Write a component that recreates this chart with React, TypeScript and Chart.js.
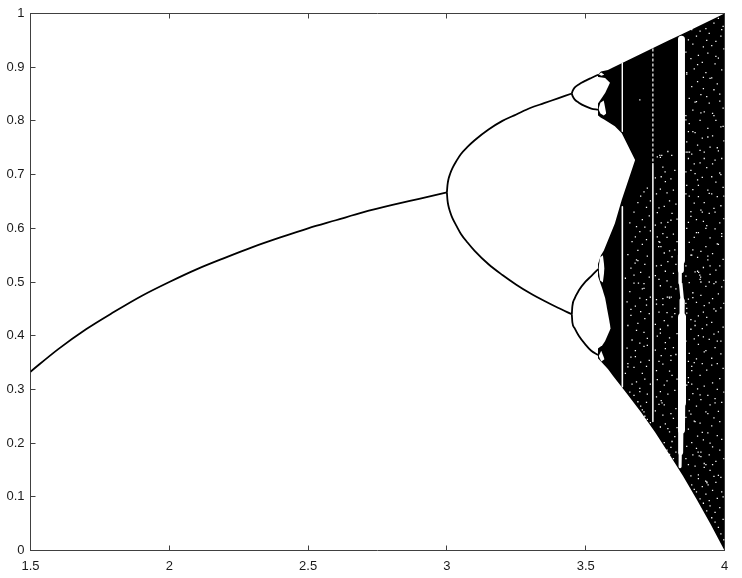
import React, { useEffect, useRef } from "react";
import { Chart, registerables } from "chart.js";

Chart.register(...registerables);

// Speckle lists other than visibleClumps are hand-typed estimates that follow the visible
// density; they are not exact per-pixel readings, and are sparser than the reference.

const xTicks = [1.5, 2, 2.5, 3, 3.5, 4];
const yTicks = [0, 0.1, 0.2, 0.3, 0.4, 0.5, 0.6, 0.7, 0.8, 0.9, 1];

type P = [number, number];

const mainBranch: P[] = [[1.5,.333],[1.6,.375],[1.7,.412],[1.8,.444],[1.9,.474],[2,.5],[2.1,.524],[2.2,.545],[2.3,.565],[2.4,.583],[2.5,.6],[2.6,.615],[2.7,.63],[2.8,.643],[2.9,.655],[3,.667]];
const upperArc: P[] = [[3,.667],[3.002,.68],[3.005,.69],[3.012,.702],[3.02,.712],[3.035,.726],[3.05,.738],[3.075,.752],[3.1,.764],[3.15,.784],[3.2,.8],[3.25,.812],[3.3,.824],[3.35,.833],[3.4,.842],[3.45,.851]];
const lowerArc: P[] = [[3,.667],[3.002,.653],[3.005,.643],[3.012,.63],[3.02,.619],[3.035,.604],[3.05,.59],[3.075,.573],[3.1,.558],[3.15,.533],[3.2,.513],[3.25,.495],[3.3,.479],[3.35,.465],[3.4,.452],[3.45,.44]];
const lobeA: P[] = [[3.45,.851],[3.453,.856],[3.46,.862],[3.475,.868],[3.5,.875],[3.52,.88],[3.545,.886]];
const lobeB: P[] = [[3.45,.851],[3.453,.846],[3.46,.84],[3.475,.834],[3.5,.827],[3.52,.823],[3.545,.821]];
const lobeC: P[] = [[3.45,.44],[3.452,.455],[3.46,.469],[3.475,.484],[3.5,.501],[3.52,.511],[3.545,.524]];
const lobeD: P[] = [[3.45,.44],[3.452,.425],[3.46,.414],[3.475,.4],[3.5,.383],[3.52,.372],[3.545,.364]];

const bandR = [3.544,3.555,3.58,3.6,3.65,3.7,3.75,3.8,3.85,3.9,3.95,4];
const bandTop = [.886,.892,.895,.9,.9125,.925,.9375,.95,.9625,.975,.9875,1];
const bandBottom = [.358,.352,.338,.324,.291,.257,.22,.18,.139,.095,.049,0];

const hollowUpR = [3.54,3.57,3.5875];
const hollowUpTop = [.882,.88,.871];
const hollowUpBottom = [.829,.852,.871];
const eyeAR = [3.547,3.556,3.567];
const eyeATop = [.887,.89,.886];
const eyeABottom = [.887,.884,.886];
const eyeBR = [3.546,3.553,3.565,3.574];
const eyeBTop = [.822,.834,.838,.814];
const eyeBBottom = [.822,.814,.81,.814];
const wedgeR = [3.54,3.555,3.565,3.605,3.63,3.678];
const wedgeTop = [.812,.806,.803,.79,.777,.727];
const wedgeBottom = [.527,.55,.558,.609,.653,.727];
const eyeCR = [3.546,3.552,3.562,3.568];
const eyeCTop = [.525,.546,.55,.525];
const eyeCBottom = [.525,.503,.499,.525];
const hollowLowR = [3.54,3.56,3.57,3.59];
const hollowLowTop = [.517,.487,.47,.414];
const hollowLowBottom = [.375,.382,.39,.414];
const eyeDR = [3.547,3.556,3.568];
const eyeDTop = [.362,.372,.356];
const eyeDBottom = [.362,.352,.356];

const thinWindowA: P[] = [[3.632,.908],[3.632,.78]];
const thinWindowB: P[] = [[3.632,.64],[3.632,.305]];
const dottedWindow: P[] = [[3.742,.935],[3.742,.72]];
const thinWindowC: P[] = [[3.742,.72],[3.742,.24]];
const bigWindowTop: P[] = [[3.845,.952],[3.845,.54]];
const bigWindowShoulder: P[] = [[3.843,.55],[3.843,.522]];
const bigWindowNeckA: P[] = [[3.84,.522],[3.84,.498]];
const bigWindowNeckB: P[] = [[3.842,.498],[3.848,.466]];
const bigWindowWiden: P[] = [[3.848,.466],[3.847,.435]];
const bigWindowMid: P[] = [[3.847,.435],[3.847,.275]];
const bigWindowLow: P[] = [[3.846,.275],[3.845,.224]];
const bigWindowTaper: P[] = [[3.843,.224],[3.842,.182]];
const bigWindowTip: P[] = [[3.841,.182],[3.84,.156]];

const visibleClumps: P[] = [[3.911,.513],[3.914,.509],[3.907,.518],[3.678,.535],[3.69,.498],[3.794,.472],[3.801,.472],[3.808,.472],[3.937,.126],[3.941,.122],[3.932,.129],[3.905,.183],[3.909,.176],[3.775,.275],[3.767,.574],[3.771,.566],[3.763,.566],[3.767,.736],[3.774,.736],[3.81,.736],[3.862,.742],[3.868,.742],[3.874,.742],[3.695,.839],[3.786,.705]];

const midColumns: number[] = [3.643,3.649,3.652,3.659,3.663,3.667,3.674,3.679,3.683,3.688,3.695,3.698,3.704,3.71,3.713,3.719,3.722,3.729,3.733,3.751,3.755,3.758,3.764,3.769,3.772,3.778,3.783,3.787,3.793,3.796,3.802,3.807,3.811,3.816,3.821,3.825,3.829];
const midSpecks: number[][] = [
[.507,.33],[.463,.377],[.551,.419,.348,.342],[.61,.482,.295],[.526,.449,.438,.36],[.575,.392,.31],[.63,.513,.498,.341,.289],
[.584,.455,.372,.361],[.603,.541,.41,.314],[.648,.559,.54,.423,.277],[.594,.47,.386,.302,.296],[.66,.518,.445,.351,.269],
[.616,.57,.487,.33,.262],[.668,.497,.488,.406,.38,.258],[.602,.533,.432,.319,.25],[.639,.579,.467,.457,.343,.276],
[.675,.548,.395,.382,.291,.244],[.623,.509,.441,.354,.228,.222],[.651,.595,.472,.31,.238],
[.694,.606,.512,.421,.373,.26,.214],[.664,.53,.467,.459,.335,.286],[.733,.629,.584,.399,.318,.208],
[.638,.575,.505,.444,.352,.272,.204],[.732,.673,.493,.412,.405,.296,.23],[.696,.61,.531,.363,.279,.196],
[.714,.59,.469,.458,.347,.252],[.641,.554,.428,.308,.271,.201],[.687,.602,.52,.387,.376,.236],
[.666,.583,.502,.443,.316,.187],[.743,.611,.538,.419,.291,.227],[.651,.558,.47,.396,.334,.221,.179],
[.692,.615,.491,.363,.354,.255,.192],[.628,.547,.435,.326,.203],[.671,.589,.516,.378,.246,.171],
[.708,.56,.451,.441,.298,.212],[.645,.533,.487,.365,.264,.183],[.617,.575,.404,.319,.229]
];
const rightColumns: number[] = [3.861,3.864,3.87,3.873,3.879,3.882,3.886,3.891,3.894,3.899,3.903,3.906,3.912,3.915,3.92,3.924,3.927,3.933,3.936,3.94,3.945,3.948,3.954,3.957,3.962,3.966,3.969,3.974,3.978,3.983,3.987,3.99,3.995,3.998];
const rightSpecks: number[][] = [
[.928,.81,.802,.664,.53,.511,.39,.248,.171],[.887,.761,.68,.451,.442,.308,.194],[.951,.73,.611,.468,.322,.313,.226,.16],
[.842,.795,.574,.499,.367,.281],[.916,.708,.631,.622,.412,.254,.139],[.864,.738,.55,.343,.335,.201,.122],
[.943,.82,.672,.48,.471,.292,.178],[.897,.647,.583,.394,.241,.114],[.778,.702,.519,.427,.419,.157],
[.958,.836,.616,.462,.357,.269,.109],[.873,.755,.69,.546,.301,.213],[.922,.659,.592,.437,.384,.141,.134],
[.967,.801,.722,.505,.326,.237,.096],[.849,.634,.557,.475,.281,.183,.175],[.909,.768,.695,.413,.348,.119],
[.938,.881,.613,.527,.398,.206,.088],[.817,.742,.648,.456,.306,.162,.155],[.972,.89,.566,.492,.372,.258,.105],
[.845,.713,.605,.434,.336,.128,.074],[.926,.786,.671,.548,.541,.289,.219],[.963,.833,.628,.461,.393,.178,.093],
[.879,.751,.582,.514,.271,.149,.083],[.94,.696,.664,.425,.358,.232,.061],[.814,.772,.553,.469,.312,.193,.112],
[.982,.858,.637,.497,.403,.247,.138],[.906,.727,.599,.378,.283,.071,.053],[.948,.801,.686,.522,.446,.166,.127],
[.869,.659,.571,.348,.3,.214,.097],[.991,.917,.744,.478,.407,.259,.043],[.837,.703,.61,.53,.32,.187,.08],
[.958,.789,.642,.452,.366,.136,.031],[.895,.73,.585,.491,.276,.207,.109],[.976,.824,.676,.542,.416,.339,.058],[.934,.763,.618,.503,.295,.171,.02]
];
const rightSpecksExtra: number[][] = [
[.705,.46],[.89,.6],[.78,.352],[.66,.26],[.55,.43],[.97,.31],
[.78,.56],[.72,.35],[.835,.24],[.592,.19],[.905,.52],[.68,.4],
[.745,.29],[.815,.5],[.63,.22],[.86,.444],[.73,.37],[.6,.16],
[.95,.42],[.77,.255],[.665,.5],[.53,.2],[.88,.345],[.72,.16],
[.81,.45],[.63,.275],[.92,.5],[.75,.39],[.57,.14],[.85,.24],
[.7,.39],[.97,.59],[.79,.1],[.66,.46]
];

function band(list: any[], rs: number[], top: number[], bottom: number[], color: string, order: number) {
  const at = list.length;
  list.push({
    data: rs.map((r, i) => ({ x: r, y: top[i] })),
    borderWidth: 0, pointRadius: 0, backgroundColor: color, fill: at + 1, order,
  });
  list.push({
    data: rs.map((r, i) => ({ x: r, y: bottom[i] })),
    borderWidth: 0, pointRadius: 0, fill: false, order,
  });
}

function stroke(list: any[], pts: P[], color: string, width: number, order: number, dash: number[] = [], smooth = false) {
  list.push({
    data: pts.map(([x, y]) => ({ x, y })),
    borderColor: color, borderWidth: width, borderDash: dash, pointRadius: 0, fill: false, order,
    borderCapStyle: "butt", borderJoinStyle: "round",
    cubicInterpolationMode: smooth ? "monotone" : "default",
  });
}

function columnsToPoints(rs: number[], ys: number[][]) {
  return rs.flatMap((r, i) => ys[i].map((y) => ({ x: r, y })));
}

export default function App() {
  const ref = useRef<HTMLCanvasElement>(null);
  useEffect(() => {
    const ds: any[] = [];
    band(ds, bandR, bandTop, bandBottom, "#000", 100);
    band(ds, hollowUpR, hollowUpTop, hollowUpBottom, "#fff", 90);
    band(ds, eyeAR, eyeATop, eyeABottom, "#fff", 90);
    band(ds, eyeBR, eyeBTop, eyeBBottom, "#fff", 90);
    band(ds, wedgeR, wedgeTop, wedgeBottom, "#fff", 90);
    band(ds, eyeCR, eyeCTop, eyeCBottom, "#fff", 90);
    band(ds, hollowLowR, hollowLowTop, hollowLowBottom, "#fff", 90);
    band(ds, eyeDR, eyeDTop, eyeDBottom, "#fff", 90);
    stroke(ds, thinWindowA, "#fff", 1, 60);
    stroke(ds, thinWindowB, "#fff", 1.6, 60);
    stroke(ds, dottedWindow, "#fff", 1.2, 60, [3, 2]);
    stroke(ds, thinWindowC, "#fff", 1.5, 60);
    stroke(ds, bigWindowTop, "#fff", 7, 60);
    stroke(ds, bigWindowShoulder, "#fff", 6, 60);
    stroke(ds, bigWindowNeckA, "#fff", 3.5, 60);
    stroke(ds, bigWindowNeckB, "#fff", 3.5, 60);
    stroke(ds, bigWindowWiden, "#fff", 5, 60);
    stroke(ds, bigWindowMid, "#fff", 8, 60);
    stroke(ds, bigWindowLow, "#fff", 7, 60);
    stroke(ds, bigWindowTaper, "#fff", 5, 60);
    stroke(ds, bigWindowTip, "#fff", 3, 60);
    ds.push({
      data: [
        ...visibleClumps.map(([x, y]) => ({ x, y })),
        ...columnsToPoints(midColumns, midSpecks),
        ...columnsToPoints(rightColumns, rightSpecks),
        ...columnsToPoints(rightColumns, rightSpecksExtra),
      ],
      showLine: false, pointStyle: "rect", pointRadius: 0.9, pointBorderWidth: 0,
      pointBackgroundColor: "#fff", order: 50,
    });
    stroke(ds, mainBranch, "#000", 1.8, 10, [], true);
    stroke(ds, upperArc, "#000", 1.8, 10, [], true);
    stroke(ds, lowerArc, "#000", 1.8, 10, [], true);
    stroke(ds, lobeA, "#000", 1.8, 10, [], true);
    stroke(ds, lobeB, "#000", 1.8, 10, [], true);
    stroke(ds, lobeC, "#000", 1.8, 10, [], true);
    stroke(ds, lobeD, "#000", 1.8, 10, [], true);

    const axisColor = "#404040";
    const tickFont = { family: "'Liberation Sans', Arial, sans-serif", size: 13 };
    const grid = { drawOnChartArea: false, drawTicks: true, tickLength: -5, color: axisColor, lineWidth: 1 };
    const border = { display: true, color: axisColor, width: 1 };
    const setXTicks = (s: any) => { s.ticks = xTicks.map((value) => ({ value })); };
    const setYTicks = (s: any) => { s.ticks = yTicks.map((value) => ({ value })); };

    const chart = new Chart(ref.current!, {
      type: "line",
      data: { datasets: ds },
      options: {
        animation: false,
        responsive: false,
        parsing: false as any,
        normalized: true,
        elements: { line: { tension: 0 } },
        layout: { padding: { left: 0, right: 17.5, top: 13.5, bottom: 0 } },
        plugins: { legend: { display: false }, tooltip: { enabled: false }, title: { display: false } },
        scales: {
          x: {
            type: "linear", position: "bottom", min: 1.5, max: 4, grid, border,
            afterBuildTicks: setXTicks,
            afterFit: (s: any) => { s.height = 27.5; s.paddingLeft = 0; s.paddingRight = 0; },
            ticks: { color: "#1a1a1a", font: tickFont, padding: 13, maxRotation: 0, autoSkip: false, callback: (v: any) => String(v) },
          },
          xTop: {
            type: "linear", position: "top", min: 1.5, max: 4, grid, border,
            afterBuildTicks: setXTicks,
            afterFit: (s: any) => { s.height = 0; s.paddingLeft = 0; s.paddingRight = 0; },
            ticks: { display: false },
          },
          y: {
            type: "linear", position: "left", min: 0, max: 1, grid, border,
            afterBuildTicks: setYTicks,
            afterFit: (s: any) => { s.width = 30.5; s.paddingTop = 0; s.paddingBottom = 0; },
            ticks: { color: "#1a1a1a", font: tickFont, padding: 11, autoSkip: false, callback: (v: any) => String(v) },
          },
          yRight: {
            type: "linear", position: "right", min: 0, max: 1, grid, border,
            afterBuildTicks: setYTicks,
            afterFit: (s: any) => { s.width = 0; s.paddingTop = 0; s.paddingBottom = 0; },
            ticks: { display: false },
          },
        },
      },
    });
    return () => chart.destroy();
  }, []);
  return (
    <canvas
      ref={ref}
      width={742}
      height={578}
      style={{ position: "fixed", left: 0, top: 0, width: 742, height: 578, display: "block", background: "#fff" }}
    />
  );
}
